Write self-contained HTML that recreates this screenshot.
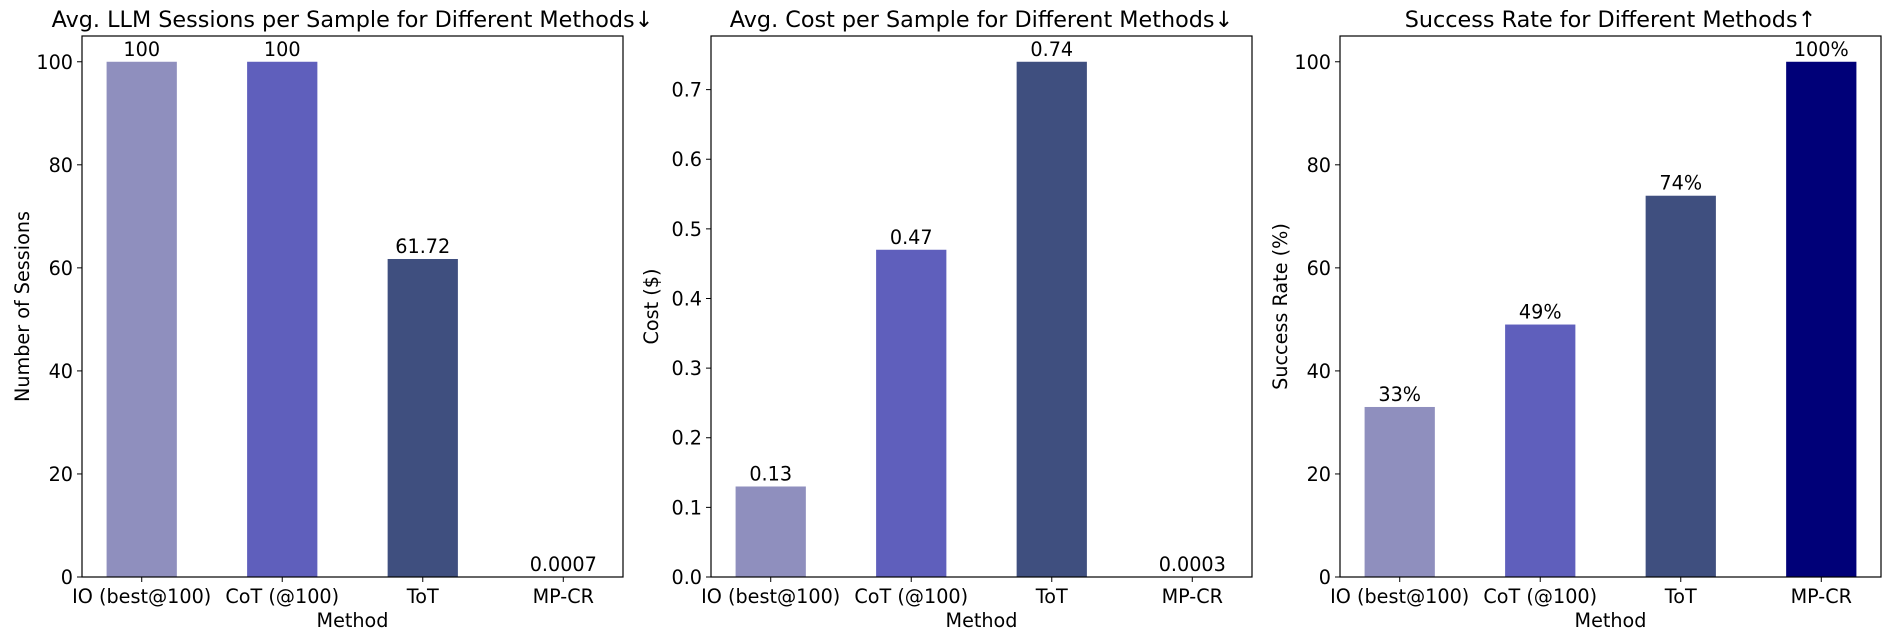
<!DOCTYPE html>
<html><head><meta charset="utf-8"><style>
html,body{margin:0;padding:0;background:#fff;}
svg{display:block;font-family:"DejaVu Sans","Liberation Sans",sans-serif;}
</style></head><body>
<svg id="chart" width="1890" height="640" viewBox="0 0 1890 640" xmlns="http://www.w3.org/2000/svg"></svg>
<script>
const categories = ["IO (best@100)", "CoT (@100)", "ToT", "MP-CR"];
const sessionValues = [100, 100, 61.72, 0.0007];
const sessionLabels = ["100", "100", "61.72", "0.0007"];
const sessionTicks = [0, 20, 40, 60, 80, 100];
const costValues = [0.13, 0.47, 0.74, 0.0003];
const costLabels = ["0.13", "0.47", "0.74", "0.0003"];
const costTicks = [0.0, 0.1, 0.2, 0.3, 0.4, 0.5, 0.6, 0.7];
const costTickLabels = ["0.0", "0.1", "0.2", "0.3", "0.4", "0.5", "0.6", "0.7"];
const successValues = [33, 49, 74, 100];
const successLabels = ["33%", "49%", "74%", "100%"];
const successTicks = [0, 20, 40, 60, 80, 100];
const barColors = ["#8f8fbe", "#5f5fbc", "#3f4f7f", "#000078"];

const NS = "http://www.w3.org/2000/svg";
const svg = document.getElementById("chart");
function mk(tag, attrs, parent) {
  const e = document.createElementNS(NS, tag);
  for (const k in attrs) e.setAttribute(k, attrs[k]);
  (parent || svg).appendChild(e);
  return e;
}

const panels = [
  {key:"sessions", left:82, title:"Avg. LLM Sessions per Sample for Different Methods\u2193", ylabel:"Number of Sessions", values:sessionValues, labels:sessionLabels, ticks:sessionTicks, tickLabels:sessionTicks.map(String), ymax:Math.max(...sessionValues)*1.05, colors:barColors},
  {key:"cost", left:711, title:"Avg. Cost per Sample for Different Methods\u2193", ylabel:"Cost ($)", values:costValues, labels:costLabels, ticks:costTicks, tickLabels:costTickLabels, ymax:Math.max(...costValues)*1.05, colors:barColors},
  {key:"success", left:1340, title:"Success Rate for Different Methods\u2191", ylabel:"Success Rate (%)", values:successValues, labels:successLabels, ticks:successTicks, tickLabels:successTicks.map(String), ymax:Math.max(...successValues)*1.05, colors:barColors}
];
const W = 541, TOP = 36, BOT = 577, H = BOT - TOP;
const xmin = -0.425, xmax = 3.425;
const FS = 19.2;

panels.forEach(p => {
  const g = mk("g", {});
  
  
  const xs = v => p.left + (v - xmin) / (xmax - xmin) * W;
  const ys = v => BOT - v / p.ymax * H;
  const bw = 0.5 / (xmax - xmin) * W;

  p.values.forEach((v, i) => {
    const y = ys(v);
    const r = mk("rect", {x: xs(i) - bw/2, y: y, width: bw, height: Math.max(BOT - y, 0), fill: p.colors[i]}, g);
    
    
    const t = mk("text", {x: xs(i), y: y - 6, "text-anchor": "middle", "font-size": FS, fill: "#000"}, g);
    t.textContent = p.labels[i];
    
    
  });

  const frame = mk("rect", {x: p.left, y: TOP, width: W, height: H, fill: "none", stroke: "#000", "stroke-width": "1.2"}, g);
  
  

  p.ticks.forEach((v, i) => {
    const y = ys(v);
    mk("line", {x1: p.left - 5, x2: p.left, y1: y, y2: y, stroke: "#000", "stroke-width": "1"}, g);
    const t = mk("text", {x: p.left - 9, y: y + 7, "text-anchor": "end", "font-size": FS}, g);
    t.textContent = p.tickLabels[i];
    
    
  });
  categories.forEach((c, i) => {
    const x = xs(i);
    mk("line", {x1: x, x2: x, y1: BOT, y2: BOT + 5, stroke: "#000", "stroke-width": "1"}, g);
    const t = mk("text", {x: x, y: BOT + 26, "text-anchor": "middle", "font-size": FS}, g);
    t.textContent = c;
    
    
  });

  const title = mk("text", {x: p.left + W/2, y: 27, "text-anchor": "middle", "font-size": "22.3"}, g);
  title.textContent = p.title;
  
  

  const xl = mk("text", {x: p.left + W/2, y: 627, "text-anchor": "middle", "font-size": FS}, g);
  xl.textContent = "Method";
  
  

  const cx = p.left - 60, cy = TOP + H/2;
  const yl = mk("text", {x: cx, y: cy, "text-anchor": "middle", "font-size": FS, transform: "rotate(-90 " + cx + " " + cy + ") translate(0 7)"}, g);
  yl.textContent = p.ylabel;
  
  
});
</script>
</body></html>
